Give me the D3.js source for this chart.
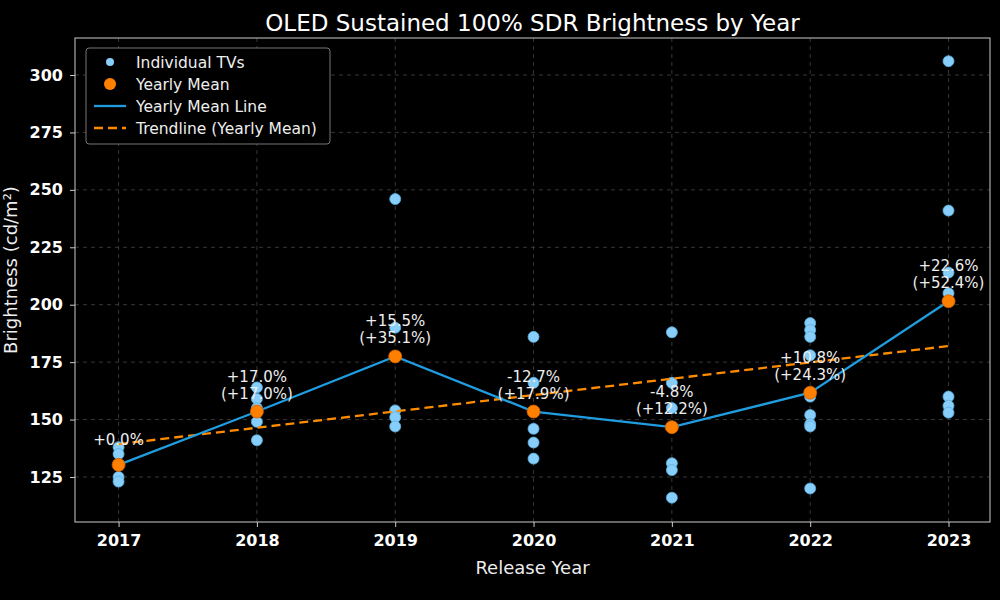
<!DOCTYPE html><html><head><meta charset="utf-8">
<script src="https://cdn.jsdelivr.net/npm/d3@7"></script>
<style>body{margin:0;background:#000}text{font-family:"DejaVu Sans",sans-serif}</style></head><body>
<svg id="c" width="1000" height="600"></svg>
<script>
const years=[2017,2018,2019,2020,2021,2022,2023];
const tvValues=[
 [138,135,125,123],
 [164,159,155,149,141],
 [246,190,154,151,147],
 [186,166,146,140,133],
 [188,166,155,131,128,116],
 [192,189,186,178,160,152,148,147,120],
 [306,241,214,205,160,156,153]
];
const yearlyMean=[130.3,153.5,177.5,153.5,146.7,161.7,201.5];
const labelTop=["+0.0%","+17.0%","+15.5%","-12.7%","-4.8%","+10.8%","+22.6%"];
const labelBottom=["","(+17.0%)","(+35.1%)","(+17.9%)","(+12.2%)","(+24.3%)","(+52.4%)"];
const yTicks=[125,150,175,200,225,250,275,300];

const svg=d3.select("#c");
svg.append("rect").attr("width",1000).attr("height",600).attr("fill","#000");
const L=75,R=990,T=38,B=522;
const x=d3.scaleLinear().domain([2016.685,2023.3]).range([L,R]);
const y=d3.scaleLinear().domain([125,300]).range([477,75]);
const g=svg.append("g");
g.selectAll(".gx").data(years).join("line").attr("x1",d=>x(d)).attr("x2",d=>x(d)).attr("y1",T).attr("y2",B)
 .attr("stroke","#444").attr("stroke-dasharray","4,4").attr("stroke-width",0.8);
g.selectAll(".gy").data(yTicks).join("line").attr("x1",L).attr("x2",R).attr("y1",d=>y(d)).attr("y2",d=>y(d))
 .attr("stroke","#444").attr("stroke-dasharray","4,4").attr("stroke-width",0.8);
const xa=svg.append("g").attr("transform",`translate(0,${B})`).call(d3.axisBottom(x).tickValues(years).tickFormat(d3.format("d")).tickSizeOuter(0).tickSize(5).tickPadding(8));
const ya=svg.append("g").attr("transform",`translate(${L},0)`).call(d3.axisLeft(y).tickValues(yTicks).tickSizeOuter(0).tickSize(5).tickPadding(7));
[xa,ya].forEach(a=>{a.select(".domain").remove();a.selectAll("line").attr("stroke","#ccc");a.selectAll("text").attr("fill","#fff").attr("font-size",16).attr("font-weight","bold");});
svg.append("rect").attr("x",L).attr("y",T).attr("width",R-L).attr("height",B-T).attr("fill","none").attr("stroke","#ccc");
const pts=[];tvValues.forEach((vs,i)=>vs.forEach(v=>pts.push([years[i],v])));
g.selectAll(".p").data(pts).join("circle").attr("cx",d=>x(d[0])).attr("cy",d=>y(d[1])).attr("r",5.5).attr("fill","#87cefa").attr("stroke","#5aaee0").attr("stroke-width",0.8);
const mx=d3.mean(years),my=d3.mean(yearlyMean);
const slope=d3.sum(years,(d,i)=>(d-mx)*(yearlyMean[i]-my))/d3.sum(years,d=>(d-mx)**2);
const tr=years.map(d=>[d,my+slope*(d-mx)]);
g.append("path").attr("d",d3.line(d=>x(d[0]),d=>y(d[1]))(tr)).attr("fill","none").attr("stroke","#ff8c00").attr("stroke-width",2.3).attr("stroke-dasharray","9,5");
g.append("path").attr("d",d3.line((d,i)=>x(years[i]),d=>y(d))(yearlyMean)).attr("fill","none").attr("stroke","#1f9de0").attr("stroke-width",2.3);
g.selectAll(".m").data(yearlyMean).join("circle").attr("cx",(d,i)=>x(years[i])).attr("cy",d=>y(d)).attr("r",6.5).attr("fill","#ff8000").attr("stroke","#d06000").attr("stroke-width",0.8);
years.forEach((yr,i)=>{
 const t=g.append("text").attr("x",x(yr)).attr("text-anchor","middle").attr("fill","#eee").attr("font-size",15);
 if(labelBottom[i]){
  t.append("tspan").attr("x",x(yr)).attr("y",y(yearlyMean[i])-30).text(labelTop[i]);
  t.append("tspan").attr("x",x(yr)).attr("y",y(yearlyMean[i])-13).text(labelBottom[i]);
 } else t.attr("y",y(yearlyMean[i])-20).text(labelTop[i]);
});
svg.append("text").attr("x",(L+R)/2).attr("y",31).attr("text-anchor","middle").attr("fill","#fff").attr("font-size",23).text("OLED Sustained 100% SDR Brightness by Year");
svg.append("text").attr("x",(L+R)/2).attr("y",574).attr("text-anchor","middle").attr("fill","#eee").attr("font-size",18).text("Release Year");
svg.append("text").attr("transform",`translate(2,${(T+B)/2-10}) rotate(-90)`).attr("text-anchor","middle").attr("dy","0.85em").attr("fill","#eee").attr("font-size",18).text("Brightness (cd/m²)");
const lg=svg.append("g").attr("transform","translate(86,48)");
lg.append("rect").attr("width",244).attr("height",96).attr("rx",3).attr("fill","#000").attr("stroke","#777");
const items=["Individual TVs","Yearly Mean","Yearly Mean Line","Trendline (Yearly Mean)"];
items.forEach((s,i)=>{
 const yy=14+i*22;
 if(i==0) lg.append("circle").attr("cx",24).attr("cy",yy).attr("r",4).attr("fill","#87cefa");
 if(i==1) lg.append("circle").attr("cx",24).attr("cy",yy).attr("r",6).attr("fill","#ff8000");
 if(i==2) lg.append("line").attr("x1",8).attr("x2",40).attr("y1",yy).attr("y2",yy).attr("stroke","#1f9de0").attr("stroke-width",2.3);
 if(i==3) lg.append("line").attr("x1",8).attr("x2",40).attr("y1",yy).attr("y2",yy).attr("stroke","#ff8c00").attr("stroke-width",2.3).attr("stroke-dasharray","9,5");
 lg.append("text").attr("x",50).attr("y",yy+6).attr("fill","#eee").attr("font-size",15.5).text(s);
});
</script></body></html>
